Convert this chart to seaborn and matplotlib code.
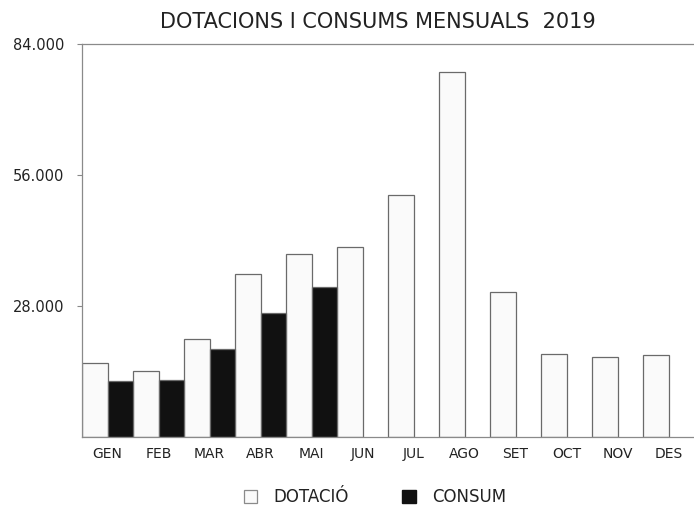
import matplotlib
matplotlib.use("Agg")
import matplotlib.pyplot as plt
import seaborn as sns
import pandas as pd
import numpy as np
from matplotlib.ticker import FixedLocator
from matplotlib.patches import Patch

months = ["GEN", "FEB", "MAR", "ABR", "MAI", "JUN", "JUL", "AGO", "SET", "OCT", "NOV", "DES"]
dotacio = [15660, 14000, 20960, 34740, 39130, 40490, 51760, 77970, 30950, 17600, 17010, 17450]
consum = [11900, 12130, 18800, 26500, 32090, np.nan, np.nan, np.nan, np.nan, np.nan, np.nan, np.nan]
series_names = ["DOTACIÓ", "CONSUM"]
yticks = [28000, 56000, 84000]
ytick_labels = ["28.000", "56.000", "84.000"]
title = "DOTACIONS I CONSUMS MENSUALS  2019"

df = pd.DataFrame({
    "mes": months * 2,
    "valor": dotacio + consum,
    "serie": [series_names[0]] * len(months) + [series_names[1]] * len(months),
})

sns.set_style("white")
plt.rcParams["font.family"] = ["DejaVu Sans"]

fig = plt.figure(figsize=(6.94, 5.12), dpi=100)
ax = fig.add_axes([82 / 694, 1 - 436.5 / 512, 1 - 82 / 694, (436.5 - 44) / 512])

sns.barplot(data=df, x="mes", y="valor", hue="serie", order=months,
            hue_order=series_names, palette=["#fafafa", "#111111"],
            width=1.0, dodge=True, edgecolor="#6a6a6a", linewidth=0.9,
            ax=ax, legend=False)

ax.set_xlim(-0.5, 11.5)
ax.set_ylim(0, 84000)
ax.yaxis.set_major_locator(FixedLocator(yticks))
ax.set_yticklabels(ytick_labels)
ax.set_xlabel("")
ax.set_ylabel("")
ax.tick_params(axis="y", left=True, length=3.6, width=0.8, color="#888888",
               labelsize=10.5, pad=9.4, labelcolor="#222222")
ax.tick_params(axis="x", bottom=False, labelsize=10, pad=4, labelcolor="#222222")

for s in ["left", "bottom", "top"]:
    ax.spines[s].set_visible(True)
    ax.spines[s].set_color("#8a8a8a")
    ax.spines[s].set_linewidth(0.9)
ax.spines["right"].set_visible(False)

fig.text(378 / 694, 1 - 22 / 512, title, ha="center", va="center",
         fontsize=15, color="#222222")

handles = [Patch(facecolor="#fafafa", edgecolor="#8a8a8a", linewidth=0.9),
           Patch(facecolor="#111111", edgecolor="#111111")]
fig.legend(handles, series_names, loc="center", bbox_to_anchor=(375 / 694, 1 - 497 / 512),
           ncol=2, frameon=False, fontsize=12, handlelength=0.8, handleheight=0.8,
           columnspacing=3.2, handletextpad=1.0, labelcolor="#222222")

fig.savefig("out.png", dpi=100, facecolor="white")
